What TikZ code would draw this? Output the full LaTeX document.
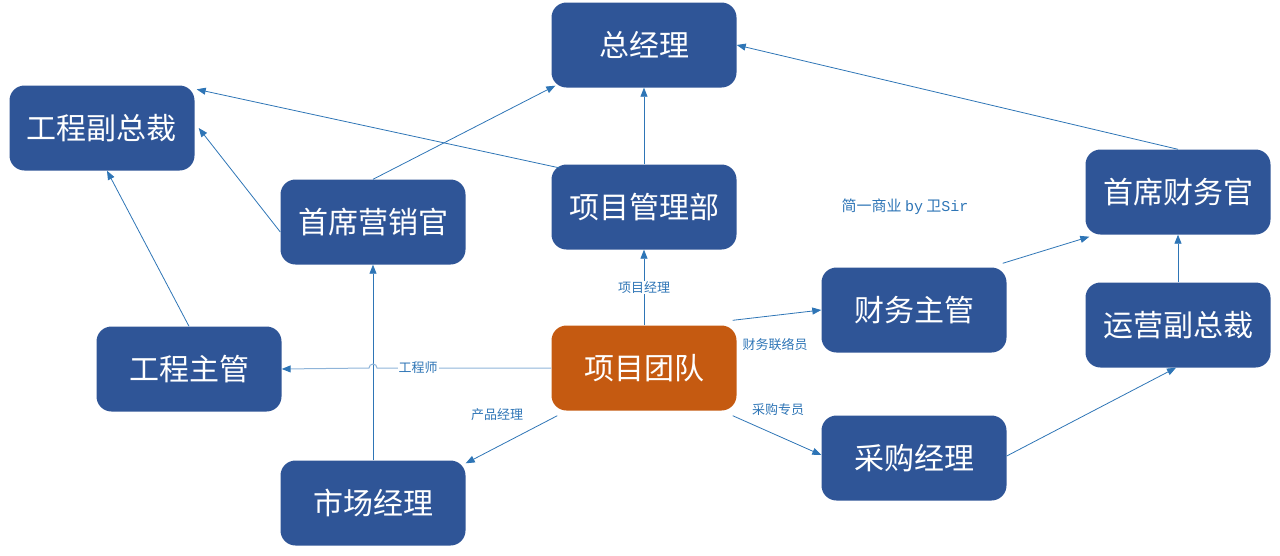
\documentclass[tikz,border=0pt]{standalone}
\usepackage{fontspec}
\setmainfont{Noto Sans CJK SC}
\newfontfamily\latinmono{Liberation Mono}
\usetikzlibrary{arrows.meta}
\definecolor{boxblue}{HTML}{2F5597}
\definecolor{boxorange}{HTML}{C55A11}
\definecolor{linkblue}{HTML}{2E75B6}
\definecolor{linklight}{HTML}{8FB4D9}
\tikzset{
  box/.style={draw=none, fill=boxblue, rounded corners=15pt, minimum width=185pt, minimum height=85pt,
    text=white, font=\fontsize{30}{32}\selectfont, inner sep=0pt},
  teambox/.style={box, fill=boxorange},
  link/.style={draw=linkblue, line width=0.8pt, -{Triangle[length=9pt,width=7pt,color=linkblue]}},
  lbl/.style={text=linkblue, font=\fontsize{13}{15}\selectfont, inner sep=1pt},
}
\begin{document}
\begin{tikzpicture}[x=1pt,y=-1pt]
\useasboundingbox (0,0) rectangle (1280,555);
\node[box] (zjl) at (644,45) {总经理};
\node[box] (gcfz) at (102,128) {工程副总裁};
\node[box] (sxyx) at (373,222) {首席营销官};
\node[box] (xmglb) at (644,207) {项目管理部};
\node[box] (sxcw) at (1178,192) {首席财务官};
\node[box] (cwzg) at (914,310) {财务主管};
\node[box] (yyfz) at (1178,325) {运营副总裁};
\node[box] (gczg) at (189,369) {工程主管};
\node[teambox] (xmtd) at (644,368) {项目团队};
\node[box] (scjl) at (373,503) {市场经理};
\node[box] (cgjl) at (914,458) {采购经理};

\node[text=linkblue, font=\fontsize{15}{17}\selectfont] (brand) at (905,207) {简一商业 {\latinmono by} 卫{\latinmono Sir}};

% edges
\draw[link] (xmglb) -- (zjl);
\coordinate (pa) at (560,168);
\draw[link] (pa) -- ([xshift=2pt,yshift=-4pt]gcfz.north east);
\draw[link] (sxyx.north) -- ([xshift=4pt,yshift=2pt]zjl.south west);
\draw[link] ([yshift=-10pt]sxyx.west) -- ([xshift=4pt]gcfz.east);
\draw[link] (gczg.north) -- ([xshift=5pt]gcfz.south);
\draw[link] (scjl) -- (sxyx);
\draw[link] (xmtd) -- node[lbl, fill=white] (l1) {项目经理} (xmglb);
\coordinate (hopR) at (377,368);
\draw[link, draw=linklight, line width=1pt] (xmtd.west) -- (hopR) arc[start angle=0, end angle=180, radius=4pt] -- (gczg.east);
\node[lbl, fill=white] (l2) at (418,368) {工程师};
\draw[link] ([xshift=6pt,yshift=-5pt]xmtd.south west) -- ([yshift=-3pt]scjl.north east);
\node[lbl] (l3) at (497,415) {产品经理};
\draw[link] ([xshift=-4pt,yshift=5pt]xmtd.north east) -- (cwzg.west);
\node[lbl] (l4) at (775,345) {财务联络员};
\draw[link] ([xshift=-4pt,yshift=-5pt]xmtd.south east) -- ([yshift=3pt]cgjl.west);
\node[lbl] (l5) at (778,410) {采购专员};
\draw[link] ([xshift=-4pt,yshift=4pt]cwzg.north east) -- ([xshift=4pt,yshift=-2pt]sxcw.south west);
\draw[link] (yyfz) -- (sxcw);
\draw[link] ([yshift=2pt]cgjl.east) -- ([xshift=-2pt]yyfz.south);
\draw[link] (sxcw.north) -- (zjl.east);
\end{tikzpicture}
\end{document}
